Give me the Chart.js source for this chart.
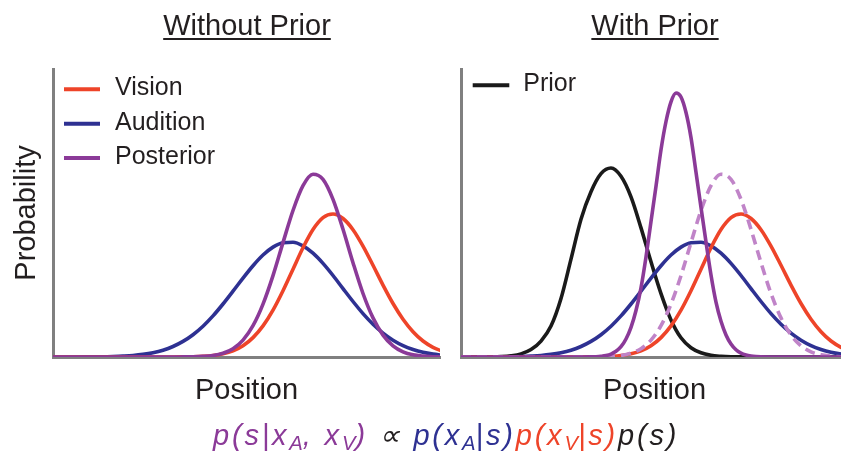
<!DOCTYPE html>
<html>
<head>
<meta charset="utf-8">
<script src="https://cdn.jsdelivr.net/npm/chart.js@4.4.1/dist/chart.umd.min.js"></script>
<style>
  html, body { margin: 0; padding: 0; background: #ffffff; }
  body { width: 841px; height: 461px; overflow: hidden; position: relative;
         font-family: "Liberation Sans", Arial, sans-serif; color: #231f20; }
  .box { position: absolute; top: 0; }
  .title { position: absolute; top: 10.5px; font-size: 29px; line-height: 29px;
           white-space: nowrap; transform: translateX(-50%);
           text-decoration: underline; text-decoration-thickness: 2px; text-underline-offset: 3px; }
  #eq { position: absolute; left: 213px; top: 420.5px; font-size: 29px; line-height: 29px;
        font-style: italic; white-space: nowrap; letter-spacing: 2.8px; }
  #eq sub { font-size: 70%; vertical-align: -0.25em; line-height: 0; letter-spacing: 0; }
  .pu { color: #8b3a98; } .bl { color: #2e3192; } .rd { color: #ee4429; } .bk { color: #231f20; }
</style>
</head>
<body>
<div class="box" style="left:0px;"><canvas id="left" width="442" height="420"></canvas></div>
<div class="box" style="left:441px;"><canvas id="right" width="410" height="420"></canvas></div>
<div class="title" style="left:247px;">Without Prior</div>
<div class="title" style="left:655px;">With Prior</div>
<div id="eq"><span class="pu">p(s|x<sub>A</sub>, x<sub>V</sub>)</span> ∝ <span class="bl">p(x<sub>A</sub>|s)</span><span class="rd">p(x<sub>V</sub>|s)</span><span class="bk">p(s)</span></div>
<script>
// ---- data (position grid and curve heights) ----
const positions = [0,10,20,30,40,50,60,70,80,90,100,110,120,130,140,150,160,170,180,190,
                   200,210,220,230,240,250,260,270,280,290,300,310,320,330,340,350,360,370,380,390];
const vision    = [0,0,0,0,0,0,0,0,0,0,0,0,0,0.1,0.3,0.7,1.5,3.2,6.2,11.3,
                   19.4,31.1,46.9,66.3,87.8,109.2,127.4,139.3,143.0,138.5,127.3,110.9,91.7,71.9,53.5,37.8,25.3,16.0,9.7,5.5];
const audition  = [0,0,0,0.1,0.1,0.2,0.5,0.9,1.5,2.6,4.3,6.8,10.5,15.6,22.3,30.8,41.1,53.0,65.8,78.9,
                   91.3,102.0,109.9,114.3,114.7,111.1,103.8,93.6,81.5,68.4,55.5,43.4,32.8,23.9,16.8,11.4,7.5,4.7,2.9,1.7];
const posterior = [0,0,0,0,0,0,0,0,0,0,0,0,0,0.1,0.2,0.6,1.5,3.8,8.3,16.9,
                   31.3,52.9,81.4,114.4,146.5,171.3,182.7,177.7,157.7,127.7,94.3,63.5,39.1,21.9,11.2,5.2,2.2,0.9,0.3,0.1];
const prior     = [0,0,0,0.1,0.4,1.2,3.1,7.4,15.9,30.9,58.5,97.9,137.8,165.3,183.3,189.0,180.7,160.1,129.1,95.2,
                   63.4,37.1,19.2,9.3,4.2,1.7,0.7,0.2,0.1,0,0,0,0,0,0,0,0,0,0,0];
const positionsFine = [0,100,120,130,135,140,145,150,155,160,165,170,175,180,185,190,195,200,205,210,
                       215,220,225,230,235,240,245,250,255,260,265,270,275,280,285,290,295,300,320,390];
const posteriorWithPrior = [0,0,0,0.1,0.3,0.7,1.4,2.9,5.7,10.3,18.0,29.7,46.5,69.2,100.0,135.4,170.8,207.2,235.5,255.2,
                            264.0,260.0,244.5,219.4,184.8,149.5,115.0,82.0,54.9,35.7,22.1,13.0,7.2,3.8,1.9,0.9,0.4,0.2,0,0];
const leftLegend = ['Vision', 'Audition', 'Posterior'];
const rightLegend = ['Prior'];

// ---- styling ----
const FONT = '"Liberation Sans", Arial, sans-serif';
const TXT = '#231f20';
const AXIS = '#808080';
const C = { vision: '#ee4429', audition: '#2e3192', posterior: '#8b3a98', dashed: '#c084c8', prior: '#1a1a1a' };
const LW = 3.6;

const pts = (xs, ys) => xs.map((x, i) => ({ x: x, y: ys[i] }));

function ds(label, xs, ys, color, order, dash) {
  return { label, data: pts(xs, ys), borderColor: color, backgroundColor: color, borderWidth: LW,
           pointRadius: 0, fill: false, cubicInterpolationMode: 'monotone', order,
           borderDash: dash || [], borderJoinStyle: 'round' };
}

const insideLegend = {
  id: 'insideLegend',
  afterDatasetsDraw(chart, args, o) {
    const { ctx, chartArea } = chart;
    ctx.save();
    ctx.font = '25px ' + FONT;
    ctx.textBaseline = 'middle';
    ctx.fillStyle = TXT;
    o.labels.forEach((label, i) => {
      const d = chart.data.datasets.find(s => s.label === label);
      const x = chartArea.left + o.left;
      const y = chartArea.top + o.top + i * o.rowGap;
      ctx.strokeStyle = d.borderColor;
      ctx.lineWidth = 4;
      ctx.setLineDash([]);
      ctx.beginPath(); ctx.moveTo(x, y); ctx.lineTo(x + o.lineLen, y); ctx.stroke();
      ctx.fillText(label, x + o.lineLen + o.gap, y - 1);
    });
    ctx.restore();
  }
};

function axisOpts(extra) {
  return Object.assign({
    ticks: { display: false },
    grid: { display: false, drawTicks: false },
    border: { display: true, color: AXIS, width: 3 }
  }, extra);
}

function makeChart(id, datasets, yTitle, yWidth, padRight, legendOpts) {
  return new Chart(document.getElementById(id), {
    type: 'line',
    data: { datasets },
    options: {
      responsive: false, animation: false, devicePixelRatio: 1,
      layout: { padding: { top: 69, right: padRight, left: 0, bottom: 0 } },
      plugins: { legend: { display: false }, tooltip: { enabled: false }, insideLegend: legendOpts },
      scales: {
        x: axisOpts({ type: 'linear', min: 0, max: 387,
          title: { display: true, text: 'Position', color: TXT, font: { family: FONT, size: 29 }, padding: { top: 0, bottom: 12 } },
          afterFit: s => { s.height = 63; } }),
        y: axisOpts({ type: 'linear', min: 0, max: 288,
          title: { display: !!yTitle, text: yTitle || '', color: TXT, font: { family: FONT, size: 29 }, padding: { top: 9.6, bottom: 0 } },
          afterFit: s => { s.width = yWidth; } })
      }
    },
    plugins: [insideLegend]
  });
}

makeChart('left', [
  ds('Vision', positions, vision, C.vision, 1),
  ds('Audition', positions, audition, C.audition, 2),
  ds('Posterior', positions, posterior, C.posterior, 0)
], 'Probability', 53, 2, { labels: leftLegend, left: 11, top: 20.3, rowGap: 34.4, lineLen: 36, gap: 15 });

makeChart('right', [
  ds('Prior', positions, prior, C.prior, 4),
  ds('Audition', positions, audition, C.audition, 3),
  ds('Vision', positions, vision, C.vision, 2),
  ds('Posterior (no prior)', positions, posterior, C.dashed, 1, [10, 6]),
  ds('Posterior', positionsFine, posteriorWithPrior, C.posterior, 0)
], '', 20, 3, { labels: rightLegend, left: 11.7, top: 16.3, rowGap: 34.4, lineLen: 36.6, gap: 14 });
</script>
</body>
</html>
